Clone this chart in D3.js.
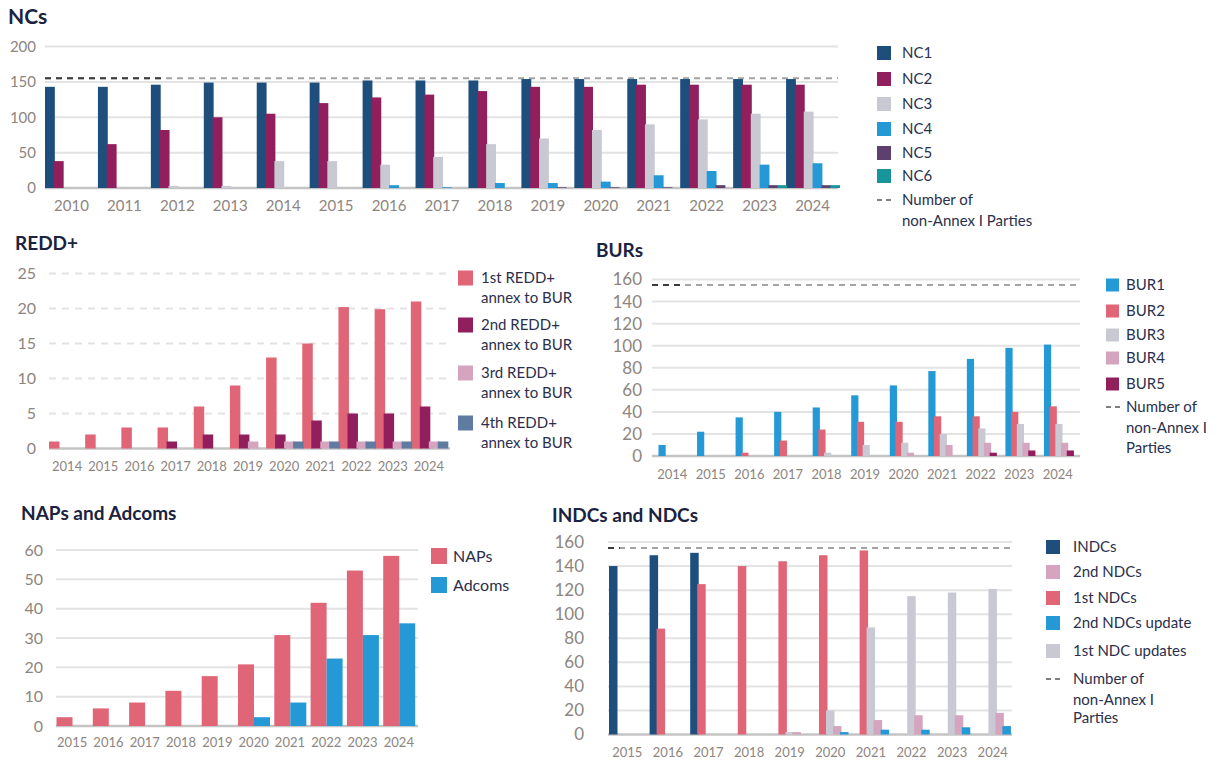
<!DOCTYPE html>
<html><head><meta charset="utf-8">
<script src="https://cdn.jsdelivr.net/npm/d3@7"></script>
<style>
body{margin:0;background:#fff;}
svg{font-family:Lato,"Open Sans",sans-serif;}
</style></head><body>
<svg id="c" width="1227" height="763"></svg>
<script>
// ---------- DATA ----------
const PARTIES = 155;

const ncYears = ["2010","2011","2012","2013","2014","2015","2016","2017","2018","2019","2020","2021","2022","2023","2024"];
const nc1 = [143,143,146,149,149,149,152,152,152,154,154,154,154,154,154];
const nc2 = [38,62,82,100,105,120,128,132,137,143,143,146,146,146,146];
const nc3 = [0,0,3,3,38,38,33,44,62,70,82,90,97,105,108];
const nc4 = [0,0,0,0,0,0,4,1,7,7,9,18,24,33,35];
const nc5 = [0,0,0,0,0,0,0,0,0,1,1,1,4,4,4];
const nc6 = [0,0,0,0,0,0,0,0,0,0,0,0,0,4,4];
const ncTicks = [0,50,100,150,200];

const reddYears = ["2014","2015","2016","2017","2018","2019","2020","2021","2022","2023","2024"];
const redd1 = [1,2,3,3,6,9,13,15,20.2,19.9,21];
const redd2 = [0,0,0,1,2,2,2,4,5,5,6];
const redd3 = [0,0,0,0,0,1,1,1,1,1,1];
const redd4 = [0,0,0,0,0,0,1,1,1,1,1];
const reddTicks = [0,5,10,15,20,25];

const burYears = ["2014","2015","2016","2017","2018","2019","2020","2021","2022","2023","2024"];
const bur1 = [10,22,35,40,44,55,64,77,88,98,101];
const bur2 = [0,0,3,14,24,31,31,36,36,40,45];
const bur3 = [0,0,0,0,3,10,12,20,25,29,29];
const bur4 = [0,0,0,0,0,0,3,10,12,12,12];
const bur5 = [0,0,0,0,0,0,0,0,3,5,5];
const burTicks = [0,20,40,60,80,100,120,140,160];

const napYears = ["2015","2016","2017","2018","2019","2020","2021","2022","2023","2024"];
const naps = [3,6,8,12,17,21,31,42,53,58];
const adcoms = [0,0,0,0,0,3,8,23,31,35];
const napTicks = [0,10,20,30,40,50,60];

const ndcYears = ["2015","2016","2017","2018","2019","2020","2021","2022","2023","2024"];
const indcs = [140,149,151,0,0,0,0,0,0,0];
const ndc1st = [0,88,125,140,144,149,153,0,0,0];
const ndc1stUpd = [0,0,0,0,2,20,89,115,118,121];
const ndc2nd = [0,0,0,0,2,7,12,16,16,18];
const ndc2ndUpd = [0,0,0,0,0,2,4,4,6,7];
const ndcTicks = [0,20,40,60,80,100,120,140,160];

// ---------- COLOURS ----------
const C = {
  navy:"#1d4e7c", crimson:"#911f5e", silver:"#c9c9d3", sky:"#2499d6",
  plum:"#5e406f", teal:"#17959b", salmon:"#e06677", pink:"#d5a4be", slate:"#5f7ba2"
};
const TITLE = "#1b2340", LEG = "#2b2f4c", TICK = "#8d8580", GRID = "#e3e3e3", BASE = "#c4c4c4";

const svg = d3.select("#c");

function panel(cfg){
  const g = svg.append("g");
  const x = d3.scaleBand().domain(cfg.years).range(cfg.xRange).padding(0);
  const step = x.step();
  const x1 = d3.scaleBand().domain(cfg.series.map(s=>s.name))
      .range([cfg.inner[0], cfg.inner[1]]).padding(0);
  const y = d3.scaleLinear().domain([0, cfg.yMax]).range(cfg.yRange);

  // gridlines
  g.append("g").selectAll("line").data(cfg.ticks.filter(t=>t>0)).join("line")
    .attr("x1", cfg.grid[0]).attr("x2", cfg.grid[1])
    .attr("y1", d=>y(d)).attr("y2", d=>y(d))
    .attr("stroke", GRID).attr("stroke-width", 2)
    .attr("stroke-dasharray", cfg.gridDash ? "7,6" : null);

  // dashed parties line
  if (cfg.dashed){
    const yy = y(PARTIES);
    g.append("line").attr("x1", cfg.grid[0]).attr("x2", cfg.grid[1])
      .attr("y1", yy).attr("y2", yy)
      .attr("stroke", "#a3a3a3").attr("stroke-width", 2).attr("stroke-dasharray", "6,5");
    g.append("line").attr("x1", cfg.grid[0]).attr("x2", cfg.grid[0] + cfg.darkLen)
      .attr("y1", yy).attr("y2", yy)
      .attr("stroke", "#3a3a3a").attr("stroke-width", 2).attr("stroke-dasharray", "6,5");
  }

  // baseline
  g.append("line").attr("x1", cfg.grid[0]).attr("x2", cfg.grid[1])
    .attr("y1", y(0)).attr("y2", y(0)).attr("stroke", BASE).attr("stroke-width", 2.5);

  // bars
  const extra = cfg.extra || 0;
  cfg.series.forEach(s=>{
    g.append("g").selectAll("rect").data(cfg.years.map((yr,i)=>({yr, v:s.values[i]})).filter(d=>d.v>0))
      .join("rect")
      .attr("x", d=>x(d.yr) + x1(s.name))
      .attr("width", x1.bandwidth() + extra)
      .attr("y", d=>y(d.v))
      .attr("height", d=>y(0)-y(d.v))
      .attr("fill", s.color);
  });

  // y axis
  const ya = g.append("g").attr("transform", `translate(${cfg.yLabelX},0)`)
    .call(d3.axisLeft(y).tickValues(cfg.ticks).tickSize(0).tickPadding(0));
  ya.select(".domain").remove();
  ya.selectAll("text").attr("fill", TICK).attr("font-size", cfg.yFont).attr("font-family","Lato, sans-serif");

  // x axis
  const xa = g.append("g").attr("transform", `translate(0,${cfg.xLabelTop})`)
    .call(d3.axisBottom(x).tickSize(0).tickPadding(0));
  xa.select(".domain").remove();
  xa.selectAll("text").attr("fill", TICK).attr("font-size", cfg.xFont).attr("font-family","Lato, sans-serif");

  // title
  svg.append("text").attr("x", cfg.title[1]).attr("y", cfg.title[2])
    .attr("dy","0.35em").attr("fill", TITLE).attr("font-weight", 700)
    .attr("font-size", cfg.title[3]).text(cfg.title[0]);
}

function legend(items, sx, tx, size, font){
  items.forEach(it=>{
    if (it.color){
      svg.append("rect").attr("x", sx).attr("y", it.y - size/2).attr("width", size).attr("height", size)
        .attr("fill", it.color);
    } else if (it.dash){
      svg.append("line").attr("x1", sx).attr("x2", sx+size+2).attr("y1", it.y).attr("y2", it.y)
        .attr("stroke", "#555").attr("stroke-width", 1.6).attr("stroke-dasharray", "5,4");
    }
    svg.append("text").attr("x", tx).attr("y", it.y).attr("dy","0.35em")
      .attr("fill", LEG).attr("font-size", font).text(it.label);
  });
}

// ---------- NCs ----------
panel({
  years: ncYears,
  series: [
    {name:"NC1", values:nc1, color:C.navy},
    {name:"NC2", values:nc2, color:C.crimson},
    {name:"NC3", values:nc3, color:C.silver},
    {name:"NC4", values:nc4, color:C.sky},
    {name:"NC5", values:nc5, color:C.plum},
    {name:"NC6", values:nc6, color:C.teal}],
  xRange:[45, 839], inner:[0, 53], extra:1,
  yMax:200, yRange:[188, 46.5], ticks:ncTicks, grid:[45, 838],
  dashed:true, darkLen:118,
  yLabelX:36, yFont:15, xLabelTop:200, xFont:15,
  title:["NCs", 8, 17, 21]
});
legend([
  {label:"NC1", color:C.navy, y:53},
  {label:"NC2", color:C.crimson, y:79},
  {label:"NC3", color:C.silver, y:104},
  {label:"NC4", color:C.sky, y:129},
  {label:"NC5", color:C.plum, y:153},
  {label:"NC6", color:C.teal, y:176},
  {label:"Number of", dash:true, y:200},
  {label:"non-Annex I Parties", y:221}], 877, 902, 14, 15);

// ---------- REDD+ ----------
panel({
  years: reddYears,
  series: [
    {name:"r1", values:redd1, color:C.salmon},
    {name:"r2", values:redd2, color:C.crimson},
    {name:"r3", values:redd3, color:C.pink},
    {name:"r4", values:redd4, color:C.slate}],
  xRange:[49, 447], inner:[0, 36], extra:1.5,
  yMax:25, yRange:[448.5, 273.5], ticks:reddTicks, grid:[49, 450], gridDash:true,
  yLabelX:36, yFont:16, xLabelTop:462, xFont:13,
  title:["REDD+", 15, 243, 19]
});
legend([
  {label:"1st REDD+", color:C.salmon, y:278},
  {label:"annex to BUR", y:298},
  {label:"2nd REDD+", color:C.crimson, y:325},
  {label:"annex to BUR", y:345},
  {label:"3rd REDD+", color:C.pink, y:373},
  {label:"annex to BUR", y:393},
  {label:"4th REDD+", color:C.slate, y:423},
  {label:"annex to BUR", y:443}], 458, 481, 15, 15);

// ---------- BURs ----------
panel({
  years: burYears,
  series: [
    {name:"BUR1", values:bur1, color:C.sky},
    {name:"BUR2", values:bur2, color:C.salmon},
    {name:"BUR3", values:bur3, color:C.silver},
    {name:"BUR4", values:bur4, color:C.pink},
    {name:"BUR5", values:bur5, color:C.crimson}],
  xRange:[653, 1077], inner:[5.5, 34], extra:1.5,
  yMax:160, yRange:[456, 279.5], ticks:burTicks, grid:[652, 1080],
  dashed:true, darkLen:30,
  yLabelX:642, yFont:17, xLabelTop:470, xFont:13,
  title:["BURs", 596, 250, 19]
});
legend([
  {label:"BUR1", color:C.sky, y:285},
  {label:"BUR2", color:C.salmon, y:311},
  {label:"BUR3", color:C.silver, y:335},
  {label:"BUR4", color:C.pink, y:358},
  {label:"BUR5", color:C.crimson, y:384},
  {label:"Number of", dash:true, y:407},
  {label:"non-Annex I", y:428},
  {label:"Parties", y:448}], 1106, 1126, 13, 15);

// ---------- NAPs and Adcoms ----------
panel({
  years: napYears,
  series: [
    {name:"NAPs", values:naps, color:C.salmon},
    {name:"Adcoms", values:adcoms, color:C.sky}],
  xRange:[54, 417], inner:[2.5, 34.5], extra:0,
  yMax:60, yRange:[726, 550], ticks:napTicks, grid:[56, 418],
  yLabelX:43, yFont:16, xLabelTop:738, xFont:13,
  title:["NAPs and Adcoms", 21, 513, 19]
});
legend([
  {label:"NAPs", color:C.salmon, y:556},
  {label:"Adcoms", color:C.sky, y:585}], 431, 453, 16, 16);

// ---------- INDCs and NDCs ----------
panel({
  years: ndcYears,
  series: [
    {name:"INDCs", values:indcs, color:C.navy},
    {name:"1st NDCs", values:ndc1st, color:C.salmon},
    {name:"1st NDC updates", values:ndc1stUpd, color:C.silver},
    {name:"2nd NDCs", values:ndc2nd, color:C.pink},
    {name:"2nd NDCs update", values:ndc2ndUpd, color:C.sky}],
  xRange:[607, 1013], inner:[2, 37], extra:1.5,
  yMax:160, yRange:[734.5, 542], ticks:ndcTicks, grid:[608, 1012],
  dashed:true, darkLen:12,
  yLabelX:584, yFont:17, xLabelTop:748, xFont:13,
  title:["INDCs and NDCs", 552, 515, 19]
});
legend([
  {label:"INDCs", color:C.navy, y:547},
  {label:"2nd NDCs", color:C.pink, y:572},
  {label:"1st NDCs", color:C.salmon, y:598},
  {label:"2nd NDCs update", color:C.sky, y:623},
  {label:"1st NDC updates", color:C.silver, y:651},
  {label:"Number of", dash:true, y:679},
  {label:"non-Annex I", y:700},
  {label:"Parties", y:718}], 1046, 1073, 14, 15);
</script>
</body></html>
